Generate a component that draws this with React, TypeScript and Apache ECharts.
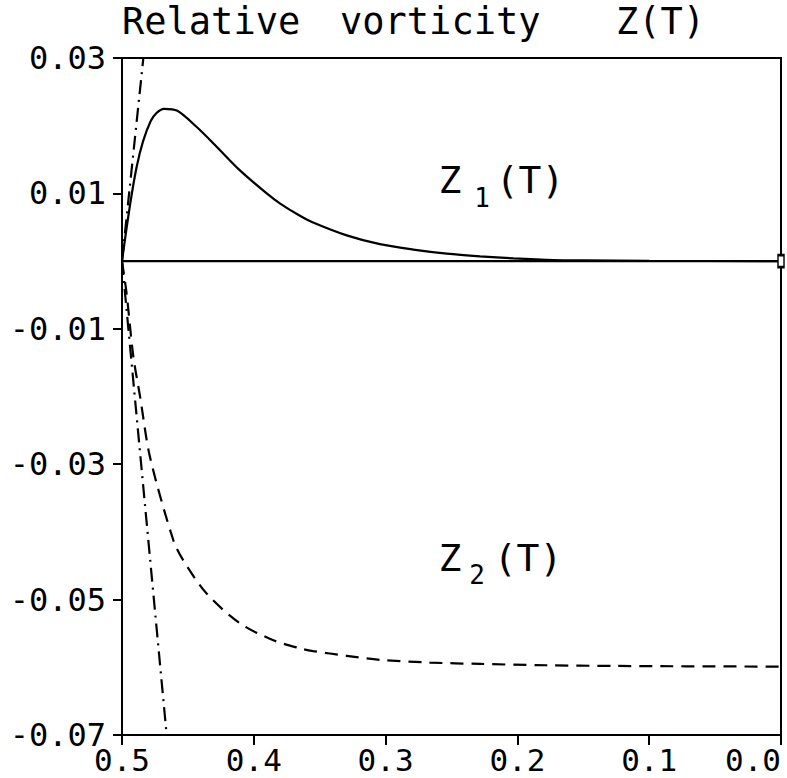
import React, { useEffect, useRef } from "react";
import * as echarts from "echarts";

// Z1(T): solid curve (t, z)
const z1T = [0.5, 0.4889, 0.4782, 0.4681, 0.458, 0.4433, 0.4282, 0.4105, 0.3902, 0.38, 0.365, 0.355, 0.3295, 0.3043, 0.279, 0.2536, 0.2284, 0.203, 0.178, 0.15, 0.1, 0.0];
const z1V = [0, 0.0139, 0.0207, 0.0225, 0.0222, 0.0198, 0.0169, 0.0134, 0.01, 0.0085, 0.0067, 0.0057, 0.0038, 0.0025, 0.0017, 0.0011, 0.0007, 0.0004, 0.0002, 0.0001, 0.00003, 0];

// Z2(T): dashed curve
const z2T = [0.5, 0.4965, 0.4914, 0.4863, 0.4788, 0.4611, 0.4535, 0.4358, 0.4105, 0.3852, 0.365, 0.355, 0.3295, 0.3043, 0.2663, 0.228, 0.178, 0.127, 0.0];
const z2V = [0, -0.0048, -0.0141, -0.02, -0.0289, -0.0412, -0.0442, -0.0491, -0.0535, -0.056, -0.0572, -0.0576, -0.0583, -0.0589, -0.0593, -0.0595, -0.0597, -0.0598, -0.0599];

// dash-dot asymptotic tangents
const tan1T = [0.5, 0.4838];
const tan1V = [0, 0.03];
const tan2T = [0.5, 0.4661];
const tan2V = [0, -0.07];

// zero line
const zeroT = [0.5, 0.0];
const zeroV = [0, 0];

const xTicks = { min: 0, max: 0.5, interval: 0.1 };
const yTicks = { min: -0.07, max: 0.03, interval: 0.02 };

const zip = (a: number[], b: number[]) => a.map((v, i) => [v, b[i]]);

const MONO = "DejaVu Sans Mono";

export default function App() {
  const ref = useRef<HTMLDivElement>(null);
  useEffect(() => {
    document.body.style.margin = "0";
    const chart = echarts.init(ref.current!, null, { renderer: "svg" });
    const zeroData: any[] = zip(zeroT, zeroV);
    zeroData[1] = {
      value: zeroData[1],
      symbol: "rect",
      symbolSize: [6, 12],
      itemStyle: { color: "#fff", borderColor: "#000", borderWidth: 2 },
    };
    chart.setOption({
      animation: false,
      backgroundColor: "#fff",
      grid: {
        left: 122,
        right: 6,
        top: 58,
        bottom: 43,
        containLabel: false,
        outerBoundsMode: "none",
        show: true,
        borderColor: "#000",
        borderWidth: 2,
        backgroundColor: "transparent",
      },
      xAxis: {
        type: "value",
        inverse: true,
        min: xTicks.min,
        max: xTicks.max,
        interval: xTicks.interval,
        axisLine: { show: true, onZero: false, lineStyle: { color: "#000", width: 2 } },
        axisTick: { show: true, inside: false, length: 10, lineStyle: { color: "#000", width: 2 } },
        splitLine: { show: false },
        axisLabel: {
          color: "#000",
          fontFamily: MONO,
          fontSize: 31,
          margin: 9,
          hideOverlap: false,
          alignMinLabel: "right",
          alignMaxLabel: "center",
          formatter: (v: number) => v.toFixed(1),
        },
      },
      yAxis: {
        type: "value",
        min: yTicks.min,
        max: yTicks.max,
        interval: yTicks.interval,
        axisLine: { show: true, onZero: false, lineStyle: { color: "#000", width: 2 } },
        axisTick: { show: true, inside: false, length: 9, lineStyle: { color: "#000", width: 2 } },
        splitLine: { show: false },
        axisLabel: {
          color: "#000",
          fontFamily: MONO,
          fontSize: 32,
          margin: 16,
          formatter: (v: number) => (Math.abs(v) < 1e-9 ? "0.00" : v.toFixed(2)),
        },
      },
      series: [
        {
          type: "line",
          data: zeroData,
          symbol: "none",
          lineStyle: { color: "#000", width: 2.2 },
          silent: true,
        },
        {
          type: "line",
          data: zip(z1T, z1V),
          symbol: "none",
          smooth: 0.3,
          lineStyle: { color: "#000", width: 2.2 },
        },
        {
          type: "line",
          data: zip(z2T, z2V),
          symbol: "none",
          smooth: 0.3,
          lineStyle: { color: "#000", width: 2.2, type: [13, 8] },
        },
        {
          type: "line",
          data: zip(tan1T, tan1V),
          symbol: "none",
          lineStyle: { color: "#000", width: 2.2, type: [14, 6, 2, 6] },
        },
        {
          type: "line",
          data: zip(tan2T, tan2V),
          symbol: "none",
          lineStyle: { color: "#000", width: 2.2, type: [14, 6, 2, 6] },
        },
      ],
      graphic: [
        { type: "text", left: 122, top: 3, style: { text: "Relative", fontFamily: MONO, fontSize: 37, fill: "#000" } },
        { type: "text", left: 340, top: 3, style: { text: "vorticity", fontFamily: MONO, fontSize: 37, fill: "#000" } },
        { type: "text", left: 616, top: 3, style: { text: "Z(T)", fontFamily: MONO, fontSize: 37, fill: "#000" } },

        { type: "text", x: 450, y: 180, style: { text: "Z", fontFamily: MONO, fontSize: 38, fill: "#000", align: "center", verticalAlign: "middle" } },
        { type: "text", x: 482, y: 198, style: { text: "1", fontFamily: MONO, fontSize: 26, fill: "#000", align: "center", verticalAlign: "middle" } },
        { type: "text", x: 530, y: 180, style: { text: "(T)", fontFamily: MONO, fontSize: 38, fill: "#000", align: "center", verticalAlign: "middle" } },

        { type: "text", x: 450, y: 558, style: { text: "Z", fontFamily: MONO, fontSize: 38, fill: "#000", align: "center", verticalAlign: "middle" } },
        { type: "text", x: 477, y: 575, style: { text: "2", fontFamily: MONO, fontSize: 26, fill: "#000", align: "center", verticalAlign: "middle" } },
        { type: "text", x: 528, y: 558, style: { text: "(T)", fontFamily: MONO, fontSize: 38, fill: "#000", align: "center", verticalAlign: "middle" } },
      ],
    });
    return () => chart.dispose();
  }, []);
  return <div ref={ref} style={{ width: 787, height: 778 }} />;
}
